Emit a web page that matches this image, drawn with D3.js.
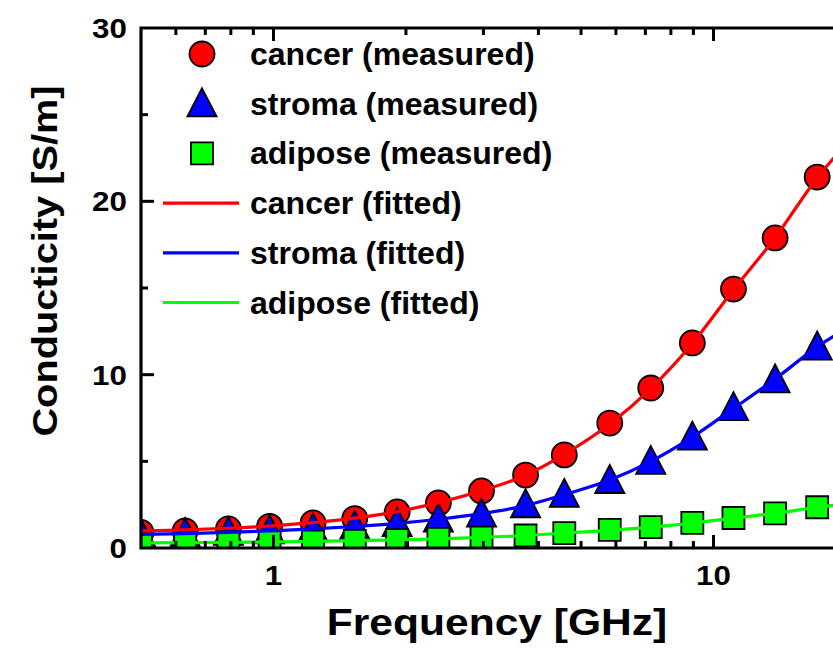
<!DOCTYPE html>
<html>
<head>
<meta charset="utf-8">
<script src="https://cdn.jsdelivr.net/npm/d3@7"></script>
<style>
  body { margin: 0; background: #fff; }
  svg { display: block; font-family: "Liberation Sans", Arial, sans-serif; font-weight: bold; }
</style>
</head>
<body>
<svg id="svg" width="833" height="662"></svg>
<script>
// DATA //

// Measured frequencies (GHz)
const freqs = [0.5, 0.63, 0.79, 0.98, 1.23, 1.53, 1.91, 2.37, 2.97, 3.74, 4.58, 5.81, 7.2, 8.95, 11.1, 13.8, 17.2];
const cancerMeasured = [0.9, 0.98, 1.1, 1.25, 1.45, 1.7, 2.08, 2.6, 3.29, 4.21, 5.37, 7.21, 9.23, 11.83, 14.94, 17.89, 21.4];
const stromaMeasured = [0.78, 0.84, 0.91, 1.0, 1.1, 1.25, 1.42, 1.67, 1.96, 2.5, 3.1, 3.9, 5.0, 6.4, 8.1, 9.7, 11.6];
const adiposeMeasured = [0.28, 0.3, 0.32, 0.34, 0.37, 0.41, 0.46, 0.53, 0.6, 0.72, 0.86, 1.04, 1.2, 1.45, 1.73, 2.0, 2.35];

// Fitted curves
const fitFreqs = [0.5, 0.63, 0.79, 0.98, 1.23, 1.53, 1.91, 2.37, 2.97, 3.74, 4.58, 5.81, 7.2, 8.95, 11.1, 13.8, 17.2, 20];
const cancerFit = [0.97, 1.04, 1.14, 1.27, 1.46, 1.72, 2.1, 2.62, 3.3, 4.2, 5.4, 7.15, 9.2, 11.8, 14.9, 17.9, 21.35, 23.3];
const stromaFit = [0.78, 0.83, 0.9, 0.99, 1.1, 1.24, 1.42, 1.66, 1.98, 2.45, 3.08, 3.92, 5.0, 6.4, 8.05, 9.75, 11.6, 12.65];
const adiposeFit = [0.3, 0.31, 0.33, 0.35, 0.38, 0.42, 0.47, 0.53, 0.61, 0.72, 0.86, 1.02, 1.2, 1.44, 1.72, 2.0, 2.35, 2.55];

const xMajor = [1, 10];
const xMinor = [0.6, 0.7, 0.8, 0.9, 2, 3, 4, 5, 6, 7, 8, 9, 20];
const yMajor = [0, 10, 20, 30];
const yMinor = [5, 15, 25];

const legendItems = [
  {label: "cancer (measured)", kind: "circle", color: "#ff0000"},
  {label: "stroma (measured)", kind: "triangle", color: "#0000ff"},
  {label: "adipose (measured)", kind: "square", color: "#00ff00"},
  {label: "cancer (fitted)", kind: "line", color: "#ff0000"},
  {label: "stroma (fitted)", kind: "line", color: "#0000ff"},
  {label: "adipose (fitted)", kind: "line", color: "#00ff00"}
];

// MAIN //

const svg = d3.select("#svg");

let margin = {top: 28, left: 141, bottom: 548, right: 846};

let x = d3.scaleLog().domain([0.5, 20]).range([margin.left, margin.right]);
let y = d3.scaleLinear().domain([0, 30]).range([margin.bottom, margin.top]);

svg.append("rect").attr("width", 833).attr("height", 662).attr("fill", "#fff");

svg.append("defs").append("clipPath").attr("id", "plot-clip")
  .append("rect")
  .attr("x", margin.left).attr("y", margin.top)
  .attr("width", margin.right - margin.left).attr("height", margin.bottom - margin.top);

const plot = svg.append("g").attr("clip-path", "url(#plot-clip)");

// Symbol path generators
let circle = d3.symbol().type(d3.symbolCircle).size(Math.PI * 12.5 * 12.5);
let triangle = (s) => `M0,${-s * 0.55}L${s * 0.52},${s * 0.45}L${-s * 0.52},${s * 0.45}Z`;
let square = (s) => `M${-s / 2},${-s / 2}h${s}v${s}h${-s}Z`;

function symbolPath(kind) {
  if (kind === "circle") return circle();
  if (kind === "triangle") return triangle(28);
  return square(22);
}

let measured = [
  {values: cancerMeasured, kind: "circle", color: "#ff0000"},
  {values: stromaMeasured, kind: "triangle", color: "#0000ff"},
  {values: adiposeMeasured, kind: "square", color: "#00ff00"}
];

measured.forEach(s => {
  plot.append("g")
    .selectAll("path")
    .data(freqs.map((f, i) => [f, s.values[i]]))
    .enter()
    .append("path")
    .attr("transform", d => `translate(${x(d[0])},${y(d[1])})`)
    .attr("d", symbolPath(s.kind))
    .attr("fill", s.color)
    .attr("stroke", "#000")
    .attr("stroke-width", 1.8);
});

// Fitted lines on top of the symbols
let line = d3.line()
  .x(d => x(d[0]))
  .y(d => y(d[1]))
  .curve(d3.curveMonotoneX);

[[cancerFit, "#ff0000"], [stromaFit, "#0000ff"], [adiposeFit, "#00ff00"]].forEach(([vals, color]) => {
  plot.append("path")
    .attr("d", line(fitFreqs.map((f, i) => [f, vals[i]])))
    .attr("fill", "none")
    .attr("stroke", color)
    .attr("stroke-width", 3.2);
});

// Axes: inward ticks, frame on top and left
const axes = svg.append("g").attr("stroke", "#000");

function tick(x1, y1, x2, y2) {
  axes.append("line")
    .attr("x1", x1).attr("y1", y1).attr("x2", x2).attr("y2", y2)
    .attr("stroke-width", 3);
}

xMajor.forEach(v => {
  tick(x(v), margin.bottom, x(v), margin.bottom - 13);
  tick(x(v), margin.top, x(v), margin.top + 13);
});
xMinor.forEach(v => {
  tick(x(v), margin.bottom, x(v), margin.bottom - 7);
  tick(x(v), margin.top, x(v), margin.top + 7);
});
yMajor.slice(1, 3).forEach(v => tick(margin.left, y(v), margin.left + 13, y(v)));
yMinor.forEach(v => tick(margin.left, y(v), margin.left + 7, y(v)));

axes.append("path")
  .attr("d", `M${margin.left},${margin.bottom}H${margin.right}M${margin.left},${margin.bottom}V${margin.top}H${margin.right}`)
  .attr("fill", "none")
  .attr("stroke-width", 3.2)
  .attr("stroke-linecap", "square");

// Tick labels (the source font runs a little wide, so stretch along the line)
svg.append("g")
  .selectAll("text")
  .data(yMajor)
  .enter()
  .append("text")
  .attr("transform", d => `translate(127,${y(d) + 10}) scale(1.12,1)`)
  .attr("text-anchor", "end")
  .style("font-size", "28px")
  .text(d => d);

svg.append("g")
  .selectAll("text")
  .data(xMajor)
  .enter()
  .append("text")
  .attr("transform", d => `translate(${x(d)},585) scale(1.12,1)`)
  .attr("text-anchor", "middle")
  .style("font-size", "28px")
  .text(d => d);

// Axis titles
svg.append("text")
  .attr("transform", "translate(497,635) scale(1.15,1)")
  .attr("text-anchor", "middle")
  .style("font-size", "37px")
  .text("Frequency [GHz]");

svg.append("text")
  .attr("transform", "translate(57,261) rotate(-90) scale(1.12,1)")
  .attr("text-anchor", "middle")
  .style("font-size", "35.5px")
  .text("Conducticity [S/m]");

// Legend
let legend = svg.append("g");

legendItems.forEach((item, i) => {
  let cy = 54 + i * 49.7;
  if (item.kind === "line") {
    legend.append("line")
      .attr("x1", 163).attr("x2", 239)
      .attr("y1", cy).attr("y2", cy)
      .attr("stroke", item.color)
      .attr("stroke-width", 3.2);
  } else {
    legend.append("path")
      .attr("transform", `translate(202,${cy})`)
      .attr("d", symbolPath(item.kind))
      .attr("fill", item.color)
      .attr("stroke", "#000")
      .attr("stroke-width", 1.8);
  }
  legend.append("text")
    .attr("x", 250)
    .attr("y", cy + 11)
    .style("font-size", "32px")
    .text(item.label);
});
</script>
</body>
</html>
